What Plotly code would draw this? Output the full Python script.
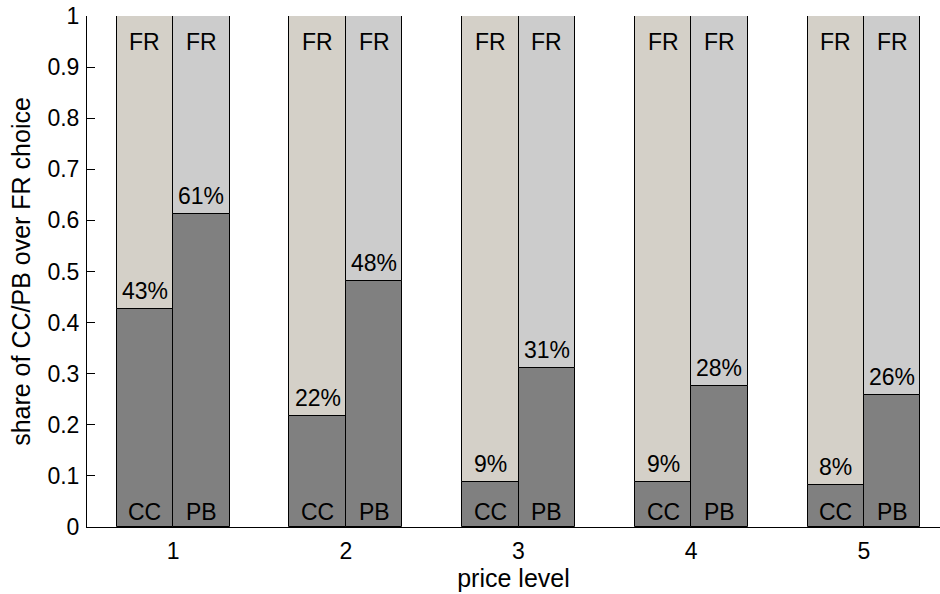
import plotly.graph_objects as go

price_levels = [1, 2, 3, 4, 5]
cc_share = [0.427, 0.218, 0.088, 0.088, 0.082]
pb_share = [0.612, 0.481, 0.312, 0.276, 0.258]
cc_labels = ["43%", "22%", "9%", "9%", "8%"]
pb_labels = ["61%", "48%", "31%", "28%", "26%"]
y_ticks = [0, 0.1, 0.2, 0.3, 0.4, 0.5, 0.6, 0.7, 0.8, 0.9, 1]
y_tick_text = ["0", "0.1", "0.2", "0.3", "0.4", "0.5", "0.6", "0.7", "0.8", "0.9", "1"]

W = 0.327
DARK = "#808080"
FR_CC = "#d4d0c8"
FR_PB = "#cccccc"
FONT = "Liberation Sans, Arial, sans-serif"

line = dict(color="black", width=1)
fig = go.Figure()
fig.add_bar(x=price_levels, y=cc_share, width=W, offset=-W,
            marker=dict(color=DARK, line=line), showlegend=False, hoverinfo="skip")
fig.add_bar(x=price_levels, y=[1 - v for v in cc_share], base=cc_share, width=W, offset=-W,
            marker=dict(color=FR_CC, line=line), showlegend=False, hoverinfo="skip")
fig.add_bar(x=price_levels, y=pb_share, width=W, offset=0,
            marker=dict(color=DARK, line=line), showlegend=False, hoverinfo="skip")
fig.add_bar(x=price_levels, y=[1 - v for v in pb_share], base=pb_share, width=W, offset=0,
            marker=dict(color=FR_PB, line=line), showlegend=False, hoverinfo="skip")

afont = dict(family=FONT, size=23, color="black")
ann = []
for i, p in enumerate(price_levels):
    for xc, name, val, lab in [(p - W / 2, "CC", cc_share[i], cc_labels[i]),
                               (p + W / 2, "PB", pb_share[i], pb_labels[i])]:
        ann.append(dict(x=xc, y=1, text="FR", showarrow=False, yanchor="middle", yshift=-26, font=afont))
        ann.append(dict(x=xc, y=0, text=name, showarrow=False, yanchor="middle", yshift=15, font=afont))
        ann.append(dict(x=xc, y=val, text=lab, showarrow=False, yanchor="middle", yshift=18, font=afont))

fig.update_layout(
    width=940, height=594,
    margin=dict(l=87, r=0, t=16, b=67),
    paper_bgcolor="white", plot_bgcolor="white",
    barmode="overlay", bargap=0,
    font=dict(family=FONT, size=21, color="black"),
    annotations=ann,
    xaxis=dict(range=[0.502, 5.44], tickvals=price_levels, ticktext=[str(p) for p in price_levels],
               tickfont=dict(size=23), automargin=False,
               showline=True, linecolor="black", linewidth=1, ticks="", showgrid=False,
               zeroline=False, title=dict(text="price level", standoff=4),
               ticklabelstandoff=3),
    yaxis=dict(range=[0, 1], tickvals=y_ticks, ticktext=y_tick_text,
               tickfont=dict(size=23), ticklabeloverflow="allow", automargin=False,
               showline=True, linecolor="black", linewidth=1, ticks="inside", ticklen=8,
               tickcolor="black", showgrid=False, zeroline=False,
               title=dict(text="share of CC/PB over FR choice", standoff=9),
               ticklabelstandoff=2),
)
fig.write_html("out.html", config={"displayModeBar": False},
               post_script="document.body.style.margin='0';document.body.style.overflow='hidden';")
